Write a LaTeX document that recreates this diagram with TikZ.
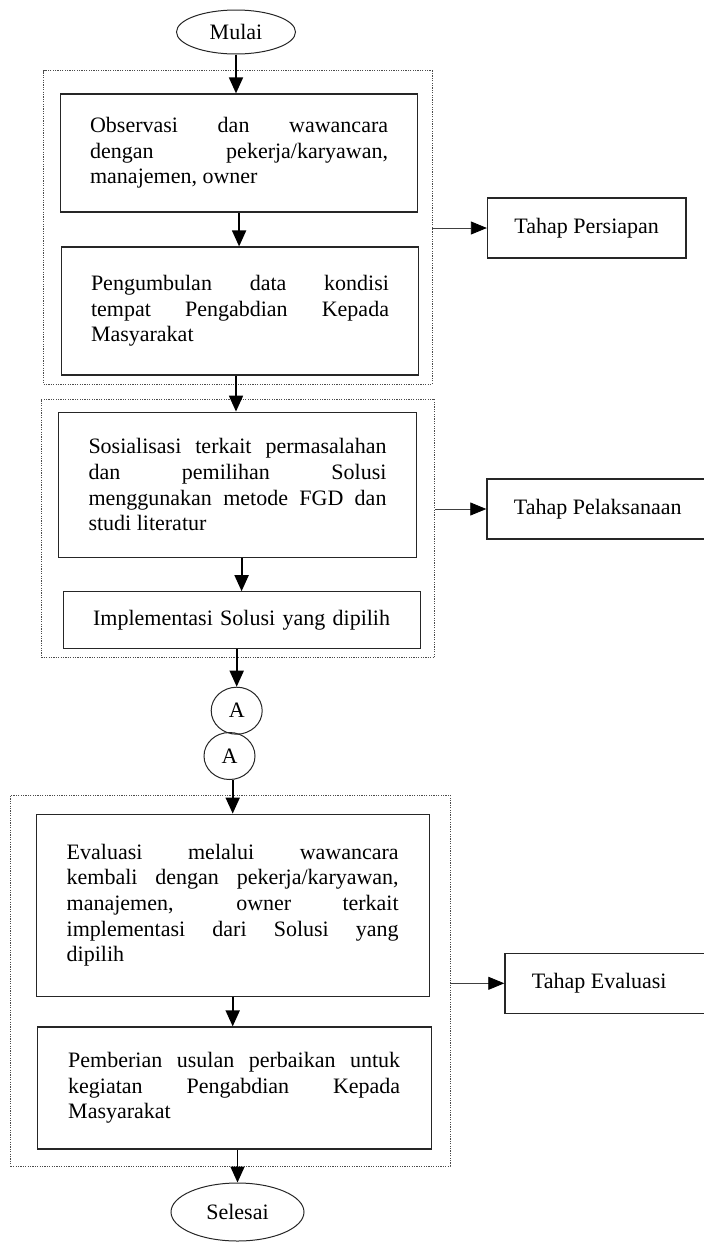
\documentclass[tikz,border=0pt]{standalone}
\usepackage{fontspec}
\setmainfont{Liberation Serif}
\usetikzlibrary{arrows.meta, shapes.geometric, positioning, fit}
\tolerance=10000
\hbadness=10000
\hyphenpenalty=10000

\begin{document}
\begin{tikzpicture}[x=1pt, y=-1pt,
    txt/.style={font=\fontsize{22}{25.7}\selectfont},
    proses/.style={txt, draw=black!85, line width=1.2pt, inner sep=0pt, text width=298pt, align=justify},
    terminal/.style={txt, ellipse, draw=black!85, line width=1pt, inner sep=0pt},
    konektor/.style={txt, ellipse, draw=black!85, line width=1pt, inner sep=0pt, minimum width=51pt, minimum height=47pt},
    tahap/.style={txt, draw=black!85, line width=1.2pt, inner xsep=27pt, inner ysep=0pt, minimum height=60pt},
    grup/.style={draw=black!70, line width=0.8pt, dash pattern=on 1.2pt off 1.2pt, inner sep=0pt},
    alur/.style={-{Triangle[length=16pt, width=14pt]}, line width=1.8pt},
    ke/.style={-{Triangle[length=16pt, width=13pt, black]}, line width=0.8pt, draw=black!75}
]
            \useasboundingbox (0,0) rectangle (704,1245);
            \clip (0,0) rectangle (704,1245);

            % Mulai
            \node[terminal, minimum width=119pt, minimum height=44pt] (mulai) at (236,32) {Mulai};

            % Tahap persiapan
            \node[proses, minimum width=357pt, minimum height=118pt] (obs) at (239.1,153) {Observasi dan wawancara\linebreak dengan pekerja/karyawan,\linebreak manajemen, owner};
            \node[proses, minimum width=357pt, minimum height=128pt] (data) at (240,311) {Pengumbulan data kondisi\linebreak tempat Pengabdian Kepada\linebreak Masyarakat};
            \node[grup, fit={(43.5,70.7) (432,384)}] (grp1) {};
            \node[tahap] (persiapan) at (586.7,228) {Tahap Persiapan};

            % Tahap pelaksanaan
            \node[proses, minimum width=358pt, minimum height=145pt] (sos) at (237.5,484.7) {Sosialisasi terkait permasalahan\linebreak dan pemilihan Solusi\linebreak menggunakan metode FGD dan\linebreak studi literatur};
            \node[proses, align=center, minimum width=357pt, minimum height=57pt] (impl) at (241.6,620.3) {Implementasi Solusi yang dipilih};
            \node[grup, fit={(41.3,399) (434.7,657.3)}] (grp2) {};
            \node[tahap, anchor=west, text width=200pt, align=flush left] (pelaksanaan) at (486.3,509) {Tahap Pelaksanaan};

            % Konektor A
            \node[konektor] (a1) at (236.7,710.7) {A};
            \node[konektor] (a2) at (229.5,756) {A};

            % Tahap evaluasi
            \node[proses, text width=332pt, minimum width=393pt, minimum height=182pt] (eval) at (232.7,905.2) {Evaluasi melalui wawancara\linebreak kembali dengan pekerja/karyawan,\linebreak manajemen, owner terkait\linebreak implementasi dari Solusi yang\linebreak dipilih};
            \node[proses, text width=332pt, minimum width=394pt, minimum height=122pt] (usulan) at (234.2,1088) {Pemberian usulan perbaikan untuk\linebreak kegiatan Pengabdian Kepada\linebreak Masyarakat};
            \node[grup, fit={(10.8,795) (450,1166)}] (grp3) {};
            \node[tahap, anchor=west, text width=200pt, align=flush left] (evaluasi) at (504.3,983.3) {Tahap Evaluasi};

            % Selesai
            \node[terminal, minimum width=133pt, minimum height=58pt] (selesai) at (237.5,1212) {Selesai};

            % alur utama
            \draw[alur] (mulai) -- (mulai |- obs.north);
            \draw[alur] (obs.south) -- (obs.south |- data.north);
            \draw[alur] (data.south -| mulai) -- (sos.north -| mulai);
            \draw[alur] (sos.south -| impl) -- (impl.north);
            \draw[alur] (impl.south -| a1) -- (a1.north);
            \draw[alur] (a2.south -| eval) -- (eval.north);
            \draw[alur] (eval.south) -- (eval.south |- usulan.north);
            \draw[alur] (usulan.south -| selesai) -- (selesai.north);

            % ke tahap
            \draw[ke] (grp1.east |- persiapan) -- (persiapan.west);
            \draw[ke] (grp2.east |- pelaksanaan) -- (pelaksanaan.west);
            \draw[ke] (grp3.east |- evaluasi) -- (evaluasi.west);
        \end{tikzpicture}
\end{document}
